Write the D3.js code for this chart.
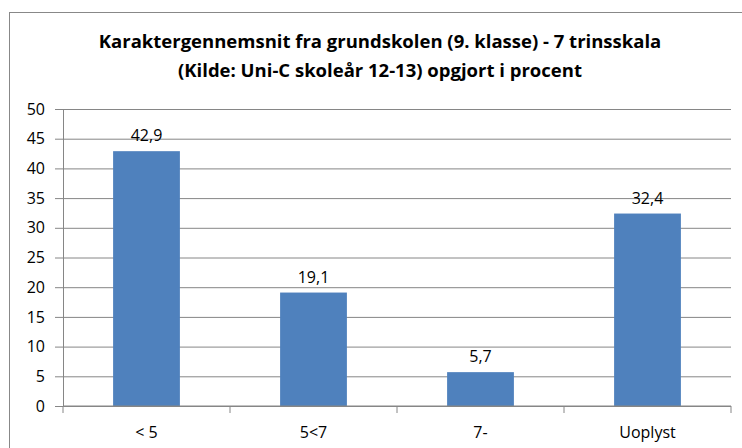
<!DOCTYPE html>
<html>
<head>
<meta charset="utf-8">
<script src="https://cdn.jsdelivr.net/npm/d3@7"></script>
<style>
  body { margin: 0; background: #fff; }
  svg text { font-family: "Open Sans", "Noto Sans", sans-serif; fill: #000; }
</style>
</head>
<body>
<div id="barChart"></div>
<script>
var categories = ['< 5', '5<7', '7-', 'Uoplyst'];
var values = [42.9, 19.1, 5.7, 32.4];
var valueLabels = ['42,9', '19,1', '5,7', '32,4'];
var yTicks = [0, 5, 10, 15, 20, 25, 30, 35, 40, 45, 50];
var titleLines = ['Karaktergennemsnit fra grundskolen (9. klasse) - 7 trinsskala',
                  '(Kilde: Uni-C skoleår 12-13) opgjort i procent'];

var width = 742, height = 448;
var margin = { top: 109, right: 11, bottom: 42, left: 63 };

var svg = d3.select('#barChart').append('svg')
  .attr('width', width)
  .attr('height', height);

// chart frame
svg.append('rect')
  .attr('x', 9.5).attr('y', 12.5)
  .attr('width', 740).attr('height', 440)
  .attr('fill', 'none').attr('stroke', '#888').attr('stroke-width', 1);

// title
svg.selectAll('.title').data(titleLines).enter().append('text')
  .attr('class', 'title')
  .attr('x', 380)
  .attr('y', function (d, i) { return 48 + i * 29; })
  .attr('text-anchor', 'middle')
  .style('font-size', '18.5px')
  .style('font-weight', 'bold')
  .text(function (d) { return d; });

var xscale = d3.scaleBand()
  .domain(categories)
  .range([margin.left, width - margin.right])
  .paddingInner(0.6)
  .paddingOuter(0.3);

var yscale = d3.scaleLinear()
  .domain([0, 50])
  .range([height - margin.bottom, margin.top]);

// gridlines + y axis
var yAxis = svg.append('g')
  .attr('transform', 'translate(' + margin.left + ',0)')
  .call(d3.axisLeft(yscale).tickValues(yTicks)
    .tickSize(-(width - margin.left - margin.right))
    .tickSizeOuter(0)
    .tickPadding(18));
yAxis.select('.domain').attr('stroke', '#868686');
yAxis.selectAll('.tick line').attr('stroke', '#868686').attr('x1', -8);
yAxis.selectAll('.tick text').style('font-size', '16px')
  .style('font-family', '"Open Sans", sans-serif').attr('fill', '#000');

// bars
svg.selectAll('.bar').data(values).enter().append('rect')
  .attr('class', 'bar')
  .attr('x', function (d, i) { return xscale(categories[i]); })
  .attr('y', function (d) { return yscale(d); })
  .attr('width', xscale.bandwidth())
  .attr('height', function (d) { return yscale(0) - yscale(d); })
  .attr('fill', '#4F81BD');

// value labels
svg.selectAll('.val').data(values).enter().append('text')
  .attr('class', 'val')
  .attr('x', function (d, i) { return xscale(categories[i]) + xscale.bandwidth() / 2; })
  .attr('y', function (d) { return yscale(d) - 10; })
  .attr('text-anchor', 'middle')
  .style('font-size', '16px')
  .text(function (d, i) { return valueLabels[i]; });

// x axis
var step = (width - margin.left - margin.right) / categories.length;
var xAxis = svg.append('g')
  .attr('transform', 'translate(0,' + (height - margin.bottom) + ')');
xAxis.append('line')
  .attr('x1', margin.left).attr('x2', width - margin.right)
  .attr('stroke', '#868686');
xAxis.selectAll('.xt').data(d3.range(categories.length + 1)).enter().append('line')
  .attr('x1', function (i) { return margin.left + i * step; })
  .attr('x2', function (i) { return margin.left + i * step; })
  .attr('y1', 0).attr('y2', 7)
  .attr('stroke', '#868686');
xAxis.selectAll('.xl').data(categories).enter().append('text')
  .attr('x', function (d) { return xscale(d) + xscale.bandwidth() / 2; })
  .attr('y', 32)
  .attr('text-anchor', 'middle')
  .style('font-size', '16px')
  .text(function (d) { return d; });
</script>
</body>
</html>
